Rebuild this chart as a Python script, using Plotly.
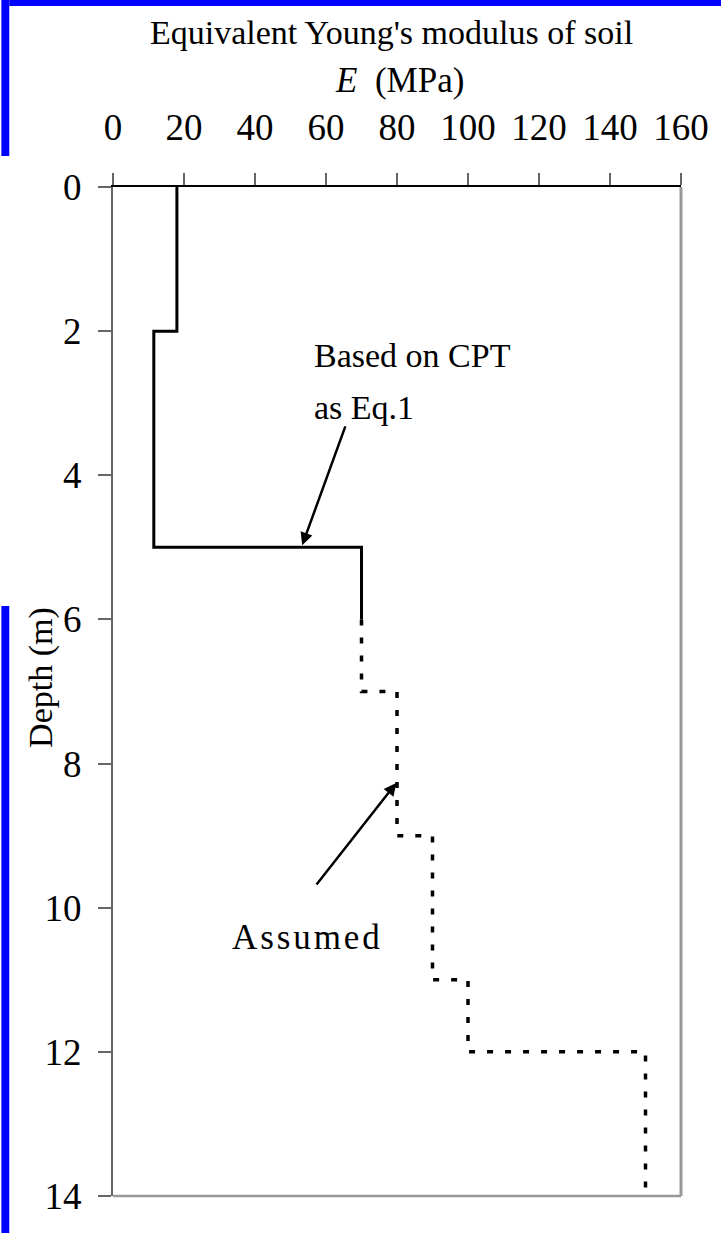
import plotly.graph_objects as go

# ---------------- data ----------------
# CPT-based layers (depth boundaries in m, E in MPa)
cpt_depths = [0, 2, 5, 6]
cpt_E = [18, 11.5, 70]
# Assumed layers
asm_depths = [6, 7, 9, 11, 12, 14]
asm_E = [70, 80, 90, 100, 150]

x_ticks = [0, 20, 40, 60, 80, 100, 120, 140, 160]
y_ticks = [0, 2, 4, 6, 8, 10, 12, 14]

FONT = "Liberation Serif"
W, H = 721, 1233
L, R, T, B = 113, 33, 187, 37


def steps(depths, values):
    xs, ys = [], []
    for i, v in enumerate(values):
        xs += [v, v]
        ys += [depths[i], depths[i + 1]]
    return xs, ys


def px2paper(px, py):
    return (px - L) / (W - L - R), (H - B - py) / (H - T - B)


cx, cy = steps(cpt_depths, cpt_E)
ax_, ay_ = steps(asm_depths, asm_E)

fig = go.Figure()
fig.add_trace(go.Scatter(x=cx, y=cy, mode="lines",
                         line=dict(color="black", width=3), showlegend=False))
fig.add_trace(go.Scatter(x=ax_, y=ay_, mode="lines",
                         line=dict(color="black", width=3.5, dash="6px,12px"),
                         showlegend=False))

annotations = []
# title lines
tx, ty = px2paper(395, 33)
annotations.append(dict(text="Equivalent Young's modulus of soil", xref="paper", yref="paper",
                        x=tx, y=ty, xanchor="center", yanchor="middle", showarrow=False,
                        font=dict(family=FONT, size=34, color="black")))
tx, ty = px2paper(403, 80)
annotations.append(dict(text="<i>E</i>\u2002(MPa)", xref="paper", yref="paper",
                        x=tx, y=ty, xanchor="center", yanchor="middle", showarrow=False,
                        font=dict(family=FONT, size=35, color="black")))
# y axis title
tx, ty = px2paper(40, 677)
annotations.append(dict(text="Depth (m)", xref="paper", yref="paper", textangle=-90,
                        x=tx, y=ty, xanchor="center", yanchor="middle", showarrow=False,
                        font=dict(family=FONT, size=34, color="black")))
# labels
annotations.append(dict(text="Based on CPT", x=56.1, y=2.34, xref="x", yref="y",
                        xanchor="left", yanchor="middle", showarrow=False,
                        font=dict(family=FONT, size=34, color="black")))
annotations.append(dict(text="as Eq.1", x=56.1, y=3.06, xref="x", yref="y",
                        xanchor="left", yanchor="middle", showarrow=False,
                        font=dict(family=FONT, size=34, color="black")))
annotations.append(dict(text="A\u200as\u200as\u200au\u200am\u200ae\u200ad", x=33.0, y=10.41,
                        xref="x", yref="y", xanchor="left", yanchor="middle", showarrow=False,
                        font=dict(family=FONT, size=35, color="black")))
# arrows
annotations.append(dict(text="", x=53.3, y=4.97, ax=65.6, ay=3.30, xref="x", yref="y",
                        axref="x", ayref="y", showarrow=True, arrowhead=2, arrowsize=1,
                        arrowwidth=2.5, arrowcolor="black", standoff=0))
annotations.append(dict(text="", x=79.8, y=8.27, ax=57.0, ay=9.7, xref="x", yref="y",
                        axref="x", ayref="y", showarrow=True, arrowhead=2, arrowsize=1,
                        arrowwidth=2.5, arrowcolor="black", standoff=0))

shapes = []
# frame right / bottom (grey shadowed border)
shapes.append(dict(type="line", xref="x domain", yref="y domain", x0=1, x1=1, y0=0, y1=1,
                   line=dict(color="#999999", width=3)))
shapes.append(dict(type="line", xref="x domain", yref="y domain", x0=0, x1=1, y0=0, y1=0,
                   line=dict(color="#999999", width=2.5)))
# blue slide background fragments (left strips + top band)
for (x0, y0, x1, y1) in [(0, -20, 8, 156), (0, 606, 8, 1253), (8, -20, 740, 6)]:
    px0, py0 = px2paper(x0, y0)
    px1, py1 = px2paper(x1, y1)
    shapes.append(dict(type="rect", xref="paper", yref="paper", x0=px0, x1=px1, y0=py1, y1=py0,
                       fillcolor="#0000FF", line=dict(width=0), layer="below"))

fig.update_layout(
    width=W, height=H, autosize=False,
    margin=dict(l=L, r=R, t=T, b=B, pad=0),
    paper_bgcolor="white", plot_bgcolor="white",
    annotations=annotations, shapes=shapes,
    xaxis=dict(side="top", range=[0, 160], tickvals=x_ticks, ticks="outside", ticklen=12,
               tickwidth=1.5, tickcolor="#666666", showline=True, linecolor="black", linewidth=2,
               showgrid=False, zeroline=False, ticklabelstandoff=18,
               tickfont=dict(family=FONT, size=37, color="black")),
    yaxis=dict(range=[14, 0], tickvals=y_ticks, ticks="outside", ticklen=13, tickwidth=1.5,
               tickcolor="#666666", showline=True, linecolor="#666666", linewidth=2,
               showgrid=False, zeroline=False, ticklabelstandoff=9,
               tickfont=dict(family=FONT, size=37, color="black")),
)

fig.write_html("out.html")
